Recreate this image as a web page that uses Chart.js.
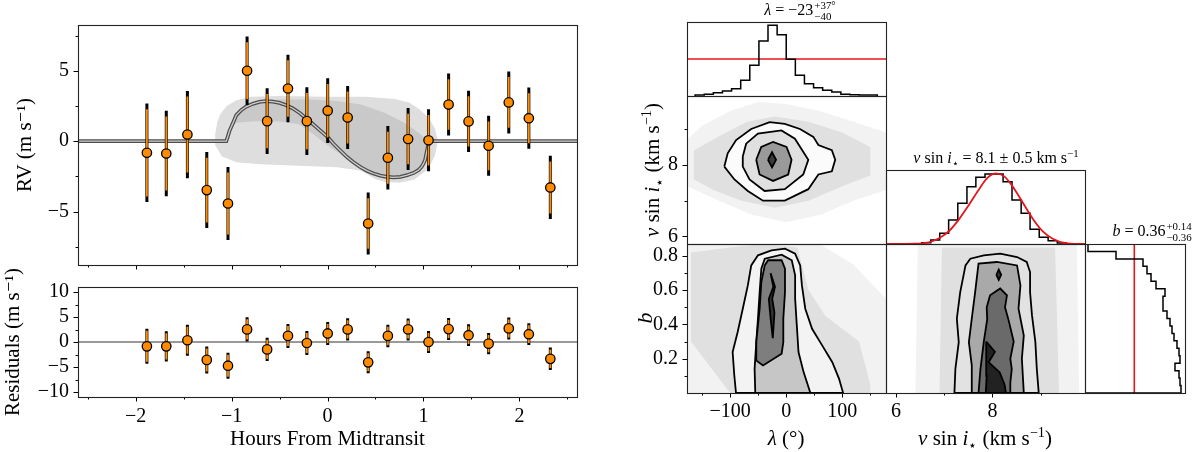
<!DOCTYPE html>
<html><head><meta charset="utf-8">
<script src="https://cdn.jsdelivr.net/npm/chart.js@4.4.1/dist/chart.umd.min.js"></script>
<style>
body{margin:0;background:#fff;width:1200px;height:452px;position:relative;overflow:hidden;}
canvas{position:absolute;}
.lbl{position:absolute;white-space:nowrap;color:#000;font-family:"Liberation Serif","DejaVu Serif",serif;transform:translate(-50%,-50%);line-height:1;}
.rot{transform:translate(-50%,-50%) rotate(-90deg);}
.ss{display:inline-flex;flex-direction:column;font-size:0.68em;line-height:1.0;vertical-align:middle;margin-left:1px;}
sup,sub{font-size:0.68em;line-height:0;}
</style></head><body>
<script>
// ---------------- DATA ----------------
const hours = [-1.882,-1.680,-1.460,-1.258,-1.037,-0.838,-0.629,-0.412,-0.215,0.002,0.210,0.424,0.629,0.840,1.053,1.262,1.470,1.679,1.889,2.098,2.322];
const rv    = [-0.83,-0.88,0.47,-3.48,-4.43,5.0,1.42,3.74,1.42,2.16,1.68,-5.85,-1.18,0.15,0.06,2.6,1.4,-0.33,2.75,1.63,-3.29];
const rvErr = [3.5,3.03,3.1,2.7,2.6,2.43,2.33,2.4,2.4,2.3,2.24,2.2,2.25,2.2,2.2,2.2,2.18,2.13,2.2,2.18,2.25];
const resid = [-0.87,-0.87,0.35,-3.58,-4.74,2.52,-1.48,1.22,-0.2,1.71,2.52,-4.07,1.22,2.52,0.0,2.58,1.36,-0.33,2.72,1.56,-3.37];
const modelHours = [-2.6,-1.055,-1.04,-1.02,-1.0,-0.975,-0.95,-0.9,-0.85,-0.78,-0.71,-0.64,-0.57,-0.5,-0.43,-0.36,-0.29,-0.22,-0.15,-0.08,0.0,0.06,0.13,0.2,0.27,0.34,0.41,0.48,0.55,0.62,0.69,0.76,0.83,0.9,0.95,0.98,1.0,1.017,1.03,1.045,1.06,1.075,2.6];
const modelRV    = [0,0,0.3,0.75,1.05,1.45,1.85,2.2,2.44,2.65,2.79,2.84,2.8,2.72,2.55,2.32,2.0,1.61,1.2,0.78,0.3,-0.17,-0.65,-1.11,-1.5,-1.83,-2.1,-2.3,-2.45,-2.54,-2.57,-2.54,-2.42,-2.25,-2.05,-1.83,-1.6,-1.35,-0.9,-0.4,-0.1,0,0];
const shadeOuter = [[-1.17,0.5],[-1.15,1.3],[-1.12,1.9],[-1.05,2.5],[-0.95,2.9],[-0.8,3.15],[-0.5,3.2],[0.0,3.15],[0.4,3.15],[0.7,3.0],[0.85,2.75],[0.95,2.3],[1.05,1.7],[1.12,0.9],[1.15,0],[1.12,-1.0],[1.05,-2.0],[0.9,-2.75],[0.75,-2.95],[0.6,-2.9],[0.5,-2.7],[0.35,-2.1],[0.1,-1.85],[-0.3,-1.75],[-0.7,-1.65],[-0.95,-1.5],[-1.1,-1.1],[-1.17,-0.3]];
const shadeInner = [[-1.0,1.05],[-0.95,1.9],[-0.85,2.5],[-0.7,2.85],[-0.5,2.95],[-0.2,2.95],[0.1,2.85],[0.35,2.6],[0.6,2.0],[0.8,1.3],[0.95,0.6],[1.06,0.0],[1.03,-0.9],[0.98,-1.85],[0.9,-2.35],[0.75,-2.7],[0.6,-2.7],[0.45,-2.4],[0.3,-1.8],[0.15,-1.0],[0.0,-0.3],[-0.15,0.5],[-0.3,1.2],[-0.5,1.4],[-0.75,1.42],[-0.95,1.3]];
const hourTicks = [-2,-1,0,1,2];
const hourMinor = [-2.5,-1.5,-0.5,0.5,1.5,2.5];
const rvTicks = [-5,0,5];
const residTicks = [-10,-5,0,5,10];
const minor25 = [-7.5,-2.5,2.5,7.5];

const lambdaEdges  = [-162.5,-146.2,-130.0,-113.7,-97.5,-81.2,-65.0,-48.7,-32.5,-16.2,0.0,16.3,32.5,48.8,65.0,81.3,97.5,113.8,130.0,146.3,162.5];
const lambdaCounts = [3,5,10,15,22,47,92,165,212,184,110,62,37,25,17,12,5,4,3,3];
const lambdaPrior = 111;
const vsiniEdges  = [6.53,6.72,6.905,7.09,7.28,7.47,7.655,7.845,8.03,8.22,8.405,8.595,8.78,8.97,9.155,9.345,9.53];
const vsiniCounts = [4,12,32,72,122,172,200,210,210,187,132,92,44,20,10,3];
const gaussV = [5.8,6.4,6.7,6.9,7.1,7.3,7.5,7.7,7.9,8.08,8.25,8.45,8.65,8.85,9.05,9.25,9.5,9.8,9.92];
const gaussC = [0,1,6,18,39,73,115,160,199,212,202,166,119,73,37,16,3,0,0];
const bEdges  = [0,0.0435,0.087,0.1305,0.174,0.2175,0.261,0.3045,0.348,0.3915,0.435,0.4785,0.522,0.5655,0.609,0.6525,0.696,0.7395,0.783,0.8265,0.87];
const bCounts = [96,95,94,90,95,94,92,89,87,85,82,78,78,80,71,66,62,58,31,3];
const bPrior = 49.3;

const lamTicks = [-100,0,100], lamMinor = [-150,-50,50,150];
const vTicks = [6,8], vMinor = [7,9];
const bTicks = [0.2,0.4,0.6,0.8], bMinor = [0.1,0.3,0.5,0.7];

// 2D panels: (lambda, vsini)
const lvHaze1 = [[-177,8.7],[-150,9.1],[-100,9.5],[-50,9.75],[0,9.7],[60,9.5],[120,9.2],[178,8.9],[178,7.3],[120,7.0],[60,6.6],[0,6.4],[-60,6.6],[-120,7.0],[-177,7.4]];
const lvHaze2 = [[-165,8.4],[-120,8.8],[-70,9.2],[-20,9.35],[40,9.2],[100,8.9],[150,8.5],[150,7.7],[100,7.4],[40,7.0],[-20,6.8],[-80,7.0],[-130,7.3],[-165,7.6]];
const lvOuter = [[-110.4,7.95],[-104.4,8.32],[-89.4,8.69],[-62.5,9.0],[-29.5,9.19],[-2.5,9.14],[24.5,9.0],[48.4,8.78],[57.4,8.55],[81.4,8.41],[87.4,8.14],[81.4,7.82],[57.4,7.73],[39.4,7.32],[-2.5,7.0],[-41.5,7.0],[-68.5,7.27],[-92.4,7.59]];
const lvMid = [[-77.5,8.23],[-71.5,8.59],[-50.5,8.87],[-8.5,8.96],[15.5,8.73],[39.4,8.14],[30.4,7.73],[-2.5,7.32],[-38.5,7.27],[-65.5,7.59],[-77.5,7.95]];
const lvInner = [[-53.5,8.14],[-44.5,8.5],[-23.5,8.64],[0.5,8.5],[9.5,8.14],[3.5,7.73],[-23.5,7.55],[-47.5,7.73]];
const lvCore = [[-32.5,8.14],[-25.3,8.35],[-18.1,8.14],[-25.3,7.93]];
// (lambda, b)
const lbHaze1 = [[-177,0.87],[60,0.87],[120,0.75],[178,0.55],[178,0],[-177,0]];
const lbHaze2 = [[-170,0.82],[-100,0.85],[-40,0.87],[20,0.85],[40,0.6],[70,0.45],[130,0.3],[150,0.05],[150,0],[-100,0],[-170,0.3]];
const lbOuter = [[-89.6,0.0],[-92.6,0.102],[-95.6,0.239],[-86.6,0.356],[-77.5,0.492],[-68.5,0.628],[-62.4,0.745],[-50.4,0.804],[-26.3,0.833],[-2.2,0.843],[15.9,0.814],[24.9,0.745],[28.0,0.628],[34.0,0.492],[46.1,0.375],[64.1,0.278],[82.2,0.18],[94.3,0.083],[101.5,0.0]];
const lbMid = [[-55.2,0.0],[-56.4,0.141],[-53.4,0.297],[-50.4,0.434],[-47.4,0.589],[-44.4,0.726],[-38.3,0.784],[-8.2,0.808],[9.9,0.775],[15.9,0.687],[15.9,0.55],[18.9,0.395],[21.9,0.239],[31.0,0.122],[43.1,0.0]];
const lbInner = [[-53.4,0.19],[-53.4,0.297],[-47.4,0.492],[-44.4,0.648],[-38.3,0.745],[-32.3,0.775],[-8.2,0.775],[-2.2,0.726],[-2.2,0.589],[-5.2,0.434],[-5.2,0.297],[-8.2,0.229],[-41.4,0.161]];
const lbCore = [[-28,0.70],[-20,0.62],[-25,0.55],[-21,0.47],[-24,0.32],[-28,0.44],[-31,0.55],[-23,0.62]];
// (vsini, b)
const vbHaze1 = [[6.45,0.87],[9.75,0.87],[9.8,0],[6.4,0]];
const vbHaze2 = [[6.95,0.85],[9.3,0.85],[9.38,0],[6.9,0]];
const vbOuter = [[7.21,0.0],[7.23,0.141],[7.3,0.297],[7.26,0.434],[7.33,0.589],[7.44,0.745],[7.54,0.784],[7.82,0.804],[8.16,0.814],[8.51,0.794],[8.71,0.765],[8.78,0.706],[8.78,0.589],[8.82,0.453],[8.89,0.297],[8.92,0.141],[8.96,0.0]];
const vbMid = [[7.57,0.0],[7.57,0.161],[7.51,0.297],[7.57,0.434],[7.64,0.589],[7.71,0.755],[8.09,0.765],[8.51,0.745],[8.58,0.628],[8.54,0.492],[8.65,0.336],[8.61,0.2],[8.65,0.0]];
const vbInner = [[7.71,0.0],[7.75,0.14],[7.82,0.3],[7.89,0.43],[7.88,0.5],[7.95,0.57],[8.16,0.61],[8.3,0.57],[8.26,0.5],[8.33,0.43],[8.44,0.3],[8.37,0.2],[8.4,0.14],[8.37,0.06],[8.37,0.0]];
const vbCore1 = [[7.87,0.30],[8.05,0.24],[7.92,0.18],[8.15,0.12],[8.25,0.05],[8.28,0.0],[7.86,0.0],[7.88,0.1]];
const vbCore2 = [[8.08,0.69],[8.13,0.72],[8.18,0.69],[8.13,0.66]];

// ---------------- HELPERS ----------------
const FONT = '"Liberation Serif","DejaVu Serif",serif';
const ORANGE = '#ff8c00';
const fmt = v => (v < 0 ? '\u2212' : '') + String(Math.abs(v));
const xy = (xs, ys) => xs.map((x, i) => ({x, y: ys[i]}));
const poly = a => { const p = a.map(([x, y]) => ({x, y})); p.push({x: a[0][0], y: a[0][1]}); return p; };
function errSegs(xs, ys, es, shrink) {
  const d = [];
  xs.forEach((x, i) => { const e = es[i] - shrink; d.push({x, y: ys[i] - e}, {x, y: ys[i] + e}, {x, y: null}); });
  return d;
}
function histPts(edges, counts) {
  const d = [{x: edges[0], y: 0}];
  counts.forEach((c, i) => d.push({x: edges[i], y: c}, {x: edges[i + 1], y: c}));
  d.push({x: edges[edges.length - 1], y: 0});
  return d;
}
function histPtsRot(edges, counts) {
  return histPts(edges, counts).map(p => ({x: p.y, y: p.x}));
}
const lineDS = (data, color, width, extra) => Object.assign({data, showLine: true, borderColor: color, borderWidth: width, pointRadius: 0, fill: false, tension: 0, spanGaps: false}, extra || {});
const shapeDS = (pts, fillColor, border) => ({data: poly(pts), showLine: true, fill: 'shape', backgroundColor: fillColor, borderColor: border ? '#000' : 'rgba(0,0,0,0)', borderWidth: border ? 1.8 : 0, pointRadius: 0, tension: 0});

const tickPlugin = {
  id: 'mtick',
  afterDraw(chart, args, opts) {
    const {ctx, chartArea: a, scales} = chart;
    ctx.save();
    ctx.strokeStyle = '#000'; ctx.lineWidth = 1;
    (opts.marks || []).forEach(m => {
      const sc = scales[m.axis];
      const draw = (vals, len) => vals.forEach(v => {
        const p = Math.round(sc.getPixelForValue(v)) + 0.5;
        ctx.beginPath();
        if (m.side === 'bottom') { ctx.moveTo(p, a.bottom); ctx.lineTo(p, a.bottom + len); }
        else { ctx.moveTo(a.left, p); ctx.lineTo(a.left - len, p); }
        ctx.stroke();
      });
      draw(m.major || [], 4.5); draw(m.minor || [], 2.5);
    });
    ctx.strokeStyle = '#222'; ctx.lineWidth = 1.1;
    ctx.strokeRect(Math.round(a.left) + 0.5, Math.round(a.top) + 0.5, Math.round(a.right - a.left), Math.round(a.bottom - a.top));
    ctx.restore();
  }
};
Chart.register(tickPlugin);

function axis(min, max, size, labels, pad, title) {
  const s = {
    type: 'linear', min, max, display: true,
    grid: {display: false, drawTicks: false}, border: {display: false},
    ticks: {display: !!labels, padding: pad || 8, color: '#000', font: {family: FONT, size: 20}, autoSkip: false, maxRotation: 0, minRotation: 0, callback: v => fmt(v)},
    afterFit: sc => { if (sc.isHorizontal()) sc.height = size; else sc.width = size; },
    title: title || {display: false}
  };
  if (labels) s.afterBuildTicks = sc => { sc.ticks = labels.map(v => ({value: v})); };
  return s;
}

function mk(frame, m, datasets, xs, ys, marks) {
  const [fx, fy, fw, fh] = frame;
  const c = document.createElement('canvas');
  const W = fw + m.l + m.r, H = fh + m.t + m.b;
  c.width = W; c.height = H;
  c.style.left = (fx - m.l) + 'px'; c.style.top = (fy - m.t) + 'px';
  c.style.width = W + 'px'; c.style.height = H + 'px';
  document.body.appendChild(c);
  datasets.forEach((d, i) => { d.order = datasets.length - i; });
  return new Chart(c, {
    type: 'scatter',
    data: {datasets},
    options: {
      responsive: false, animation: false, devicePixelRatio: 1,
      layout: {padding: {top: m.t, right: m.r, left: 0, bottom: 0}},
      plugins: {legend: {display: false}, tooltip: {enabled: false}, mtick: {marks}},
      scales: {x: xs(m.b), y: ys(m.l)}
    }
  });
}
function label(html, x, y, size, rot) {
  const d = document.createElement('div');
  d.className = 'lbl' + (rot ? ' rot' : '');
  d.style.left = x + 'px'; d.style.top = y + 'px'; d.style.fontSize = size + 'px';
  d.innerHTML = html;
  document.body.appendChild(d);
}

// ---------------- LEFT: RV ----------------
const pointDS = (ys) => ({data: xy(hours, ys), showLine: false, pointRadius: 4.7, pointBackgroundColor: ORANGE, pointBorderColor: '#000', pointBorderWidth: 1.3});
mk([78, 25, 499, 240], {l: 78, r: 6, t: 25, b: 30}, [
  shapeDS(shadeOuter, '#dedede', false),
  shapeDS(shadeInner, '#c9c9c9', false),
  lineDS(xy(modelHours, modelRV), '#4d4d4d', 3.8),
  lineDS(xy(modelHours, modelRV), '#cfcfcf', 1.3),
  lineDS(errSegs(hours, rv, rvErr, 0), '#000', 3),
  lineDS(errSegs(hours, rv, rvErr, 0.4), ORANGE, 1.8),
  pointDS(rv)
],
  b => axis(-2.6, 2.6, b, null),
  l => axis(-8.8, 8.25, l, rvTicks, 9, {display: true, text: 'RV (m s\u207B\u00B9)', color: '#000', font: {family: FONT, size: 21}, padding: {top: 13, bottom: 0}}),
  [{axis: 'x', side: 'bottom', major: hourTicks, minor: hourMinor}, {axis: 'y', side: 'left', major: rvTicks, minor: minor25}]
);

// ---------------- LEFT: residuals ----------------
mk([78, 287, 499, 110], {l: 78, r: 6, t: 30, b: 55}, [
  lineDS([{x: -2.6, y: 0}, {x: 2.6, y: 0}], '#999999', 2),
  lineDS(errSegs(hours, resid, rvErr, 0), '#000', 3),
  lineDS(errSegs(hours, resid, rvErr, 0.4), ORANGE, 1.8),
  pointDS(resid)
],
  b => axis(-2.6, 2.6, b, hourTicks, 8, {display: true, text: 'Hours From Midtransit', color: '#000', font: {family: FONT, size: 21}, padding: {top: 0, bottom: 0}}),
  l => axis(-11, 11, l, residTicks, 9, {display: true, text: 'Residuals (m s\u207B\u00B9)', color: '#000', font: {family: FONT, size: 21}, padding: {top: 1, bottom: 0}}),
  [{axis: 'x', side: 'bottom', major: hourTicks, minor: hourMinor}, {axis: 'y', side: 'left', major: residTicks, minor: minor25}]
);

// ---------------- CORNER ----------------
const LX = [-177, 178], VX = [5.79, 9.92], BY = [0, 0.87];
// lambda histogram
mk([687, 22, 199, 74], {l: 6, r: 6, t: 20, b: 20}, [
  lineDS([{x: LX[0], y: lambdaPrior}, {x: LX[1], y: lambdaPrior}], '#e8141c', 1.6),
  lineDS(histPts(lambdaEdges, lambdaCounts), '#000', 1.5)
], b => axis(LX[0], LX[1], b, null), l => axis(0, 222, l, null), []);
// lambda vs vsini
mk([687, 96, 199, 148], {l: 50, r: 4, t: 30, b: 30}, [
  shapeDS(lvHaze1, 'rgba(0,0,0,0.05)', false),
  shapeDS(lvHaze2, 'rgba(0,0,0,0.08)', false),
  shapeDS(lvOuter, '#fbfbfb', true),
  shapeDS(lvMid, '#e0e0e0', true),
  shapeDS(lvInner, '#9a9a9a', true),
  shapeDS(lvCore, '#3a3a3a', true)
], b => axis(LX[0], LX[1], b, null), l => axis(VX[0], VX[1], l, vTicks, 9), [{axis: 'y', side: 'left', major: vTicks, minor: vMinor}]);
// vsini histogram
mk([886, 170, 199, 74], {l: 6, r: 6, t: 20, b: 20}, [
  lineDS(histPts(vsiniEdges, vsiniCounts), '#000', 1.5),
  lineDS(xy(gaussV, gaussC), '#e8141c', 1.8, {cubicInterpolationMode: 'monotone'})
], b => axis(VX[0], VX[1], b, null), l => axis(0, 222, l, null), []);
// lambda vs b
mk([687, 244, 199, 149], {l: 50, r: 4, t: 30, b: 40}, [
  shapeDS(lbHaze1, 'rgba(0,0,0,0.05)', false),
  shapeDS(lbHaze2, 'rgba(0,0,0,0.08)', false),
  shapeDS(lbOuter, '#f3f3f3', true),
  shapeDS(lbMid, '#c6c6c6', true),
  shapeDS(lbInner, '#7e7e7e', true),
  shapeDS(lbCore, '#333333', true)
], b => axis(LX[0], LX[1], b, lamTicks, 7), l => axis(BY[0], BY[1], l, bTicks, 9),
  [{axis: 'x', side: 'bottom', major: lamTicks, minor: lamMinor}, {axis: 'y', side: 'left', major: bTicks, minor: bMinor}]);
// vsini vs b
mk([886, 244, 199, 149], {l: 6, r: 4, t: 30, b: 40}, [
  shapeDS(vbHaze1, 'rgba(0,0,0,0.05)', false),
  shapeDS(vbHaze2, 'rgba(0,0,0,0.08)', false),
  shapeDS(vbOuter, '#e2e2e2', true),
  shapeDS(vbMid, '#a9a9a9', true),
  shapeDS(vbInner, '#6a6a6a', true),
  shapeDS(vbCore1, '#222222', true),
  shapeDS(vbCore2, '#333333', true)
], b => axis(VX[0], VX[1], b, vTicks, 7), l => axis(BY[0], BY[1], l, null),
  [{axis: 'x', side: 'bottom', major: vTicks, minor: vMinor}]);
// b histogram (rotated)
mk([1085, 244, 100, 149], {l: 6, r: 6, t: 20, b: 20}, [
  lineDS([{x: bPrior, y: BY[0]}, {x: bPrior, y: BY[1]}], '#e8141c', 1.6),
  lineDS(histPtsRot(bEdges, bCounts), '#000', 1.5)
], b => axis(0, 100, b, null), l => axis(BY[0], BY[1], l, null), []);

// ---------------- TEXT ----------------
label('<i>λ</i> = −23<span class="ss"><span>+37°</span><span>−40</span></span>', 800, 11, 16);
label('<i>v</i> sin <i>i</i><sub>⋆</sub> = 8.1 ± 0.5 km s<sup>−1</sup>', 996, 158, 16);
label('<i>b</i> = 0.36<span class="ss"><span>+0.14</span><span>−0.36</span></span>', 1152, 232, 16);
label('<i>λ</i> (°)', 786, 438, 21);
label('<i>v</i> sin <i>i</i><sub>⋆</sub> (km s<sup>−1</sup>)', 985, 438, 21);
label('<i>v</i> sin <i>i</i><sub>⋆</sub> (km s<sup>−1</sup>)', 652, 170, 21, true);
label('<i>b</i>', 645, 318, 22, true);
</script></body></html>
